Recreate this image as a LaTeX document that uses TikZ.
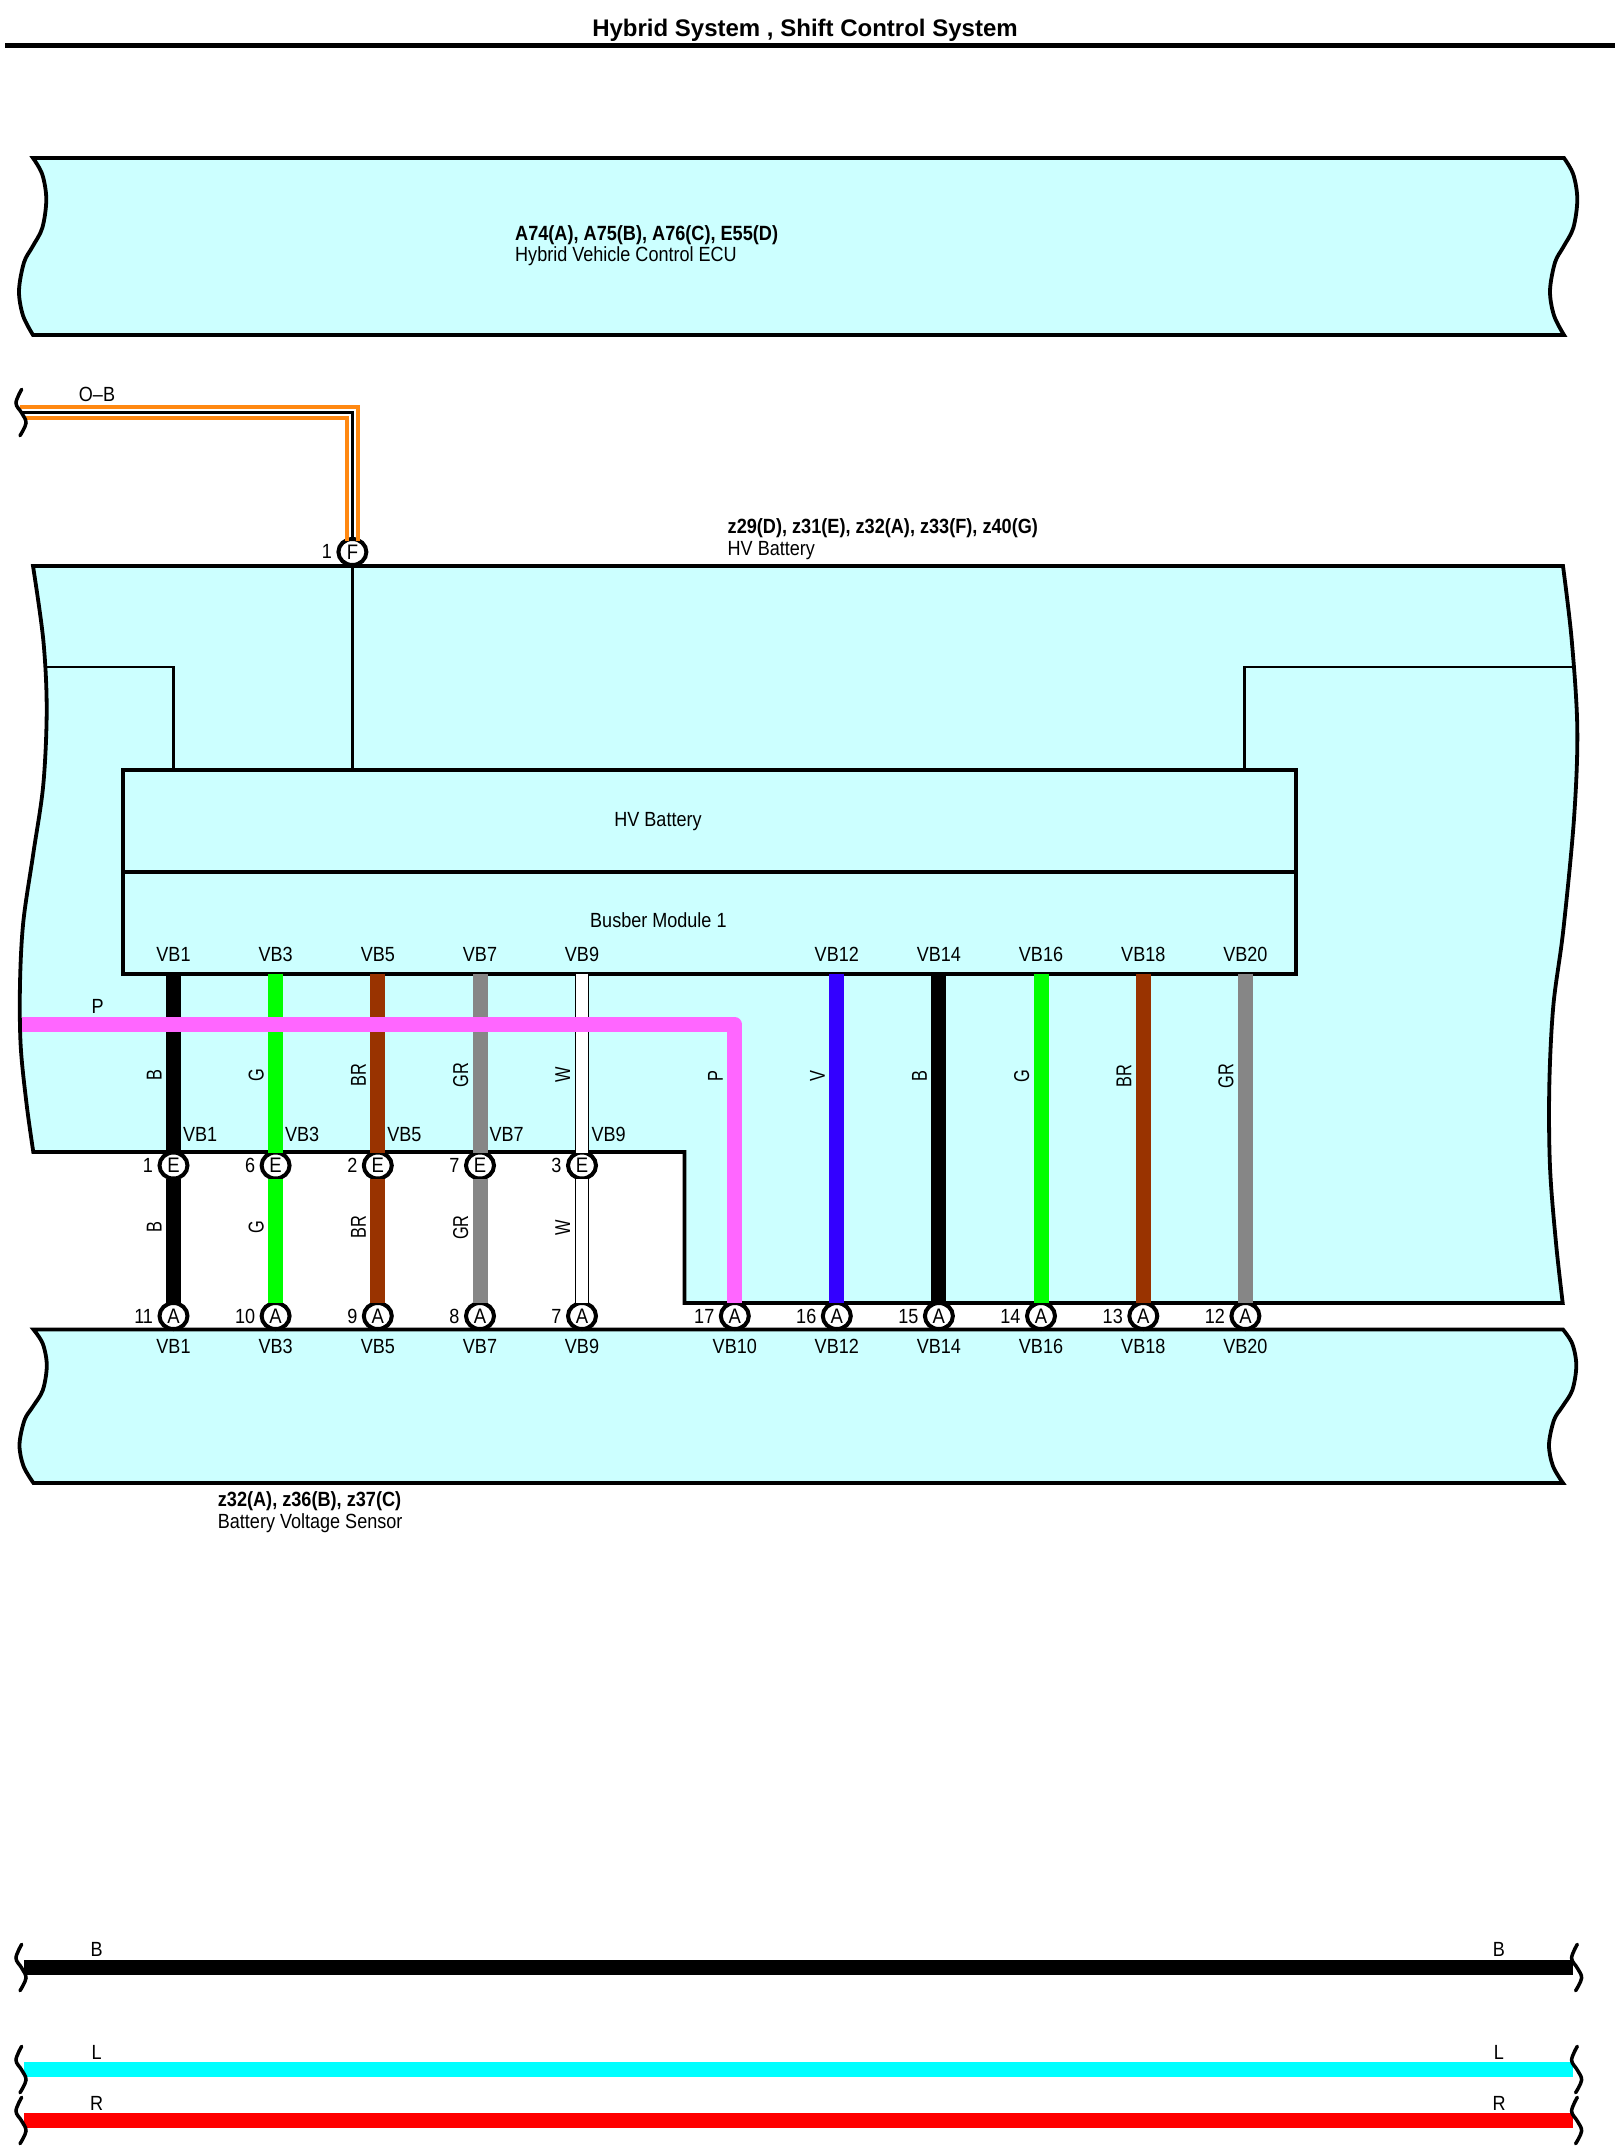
\documentclass[tikz,border=0pt]{standalone}
\usepackage{fontspec}
\usetikzlibrary{shapes.geometric}
\setmainfont{Liberation Sans}
\newfontfamily\condf[FakeStretch=0.88]{Liberation Sans}
\newfontfamily\rotf[FakeStretch=0.76]{Liberation Sans}
\definecolor{unitfill}{HTML}{CCFFFF}
\definecolor{wgreen}{HTML}{00FF00}
\definecolor{wbrown}{HTML}{993300}
\definecolor{wgray}{HTML}{868686}
\definecolor{wpink}{HTML}{FF66FF}
\definecolor{wblue}{HTML}{3300FF}
\definecolor{wcyan}{HTML}{00FFFF}
\definecolor{wred}{HTML}{FF0000}
\definecolor{worange}{HTML}{FF8811}
% unit with two wavy edges: left x, right x, top y, height
\newcommand{\unitshape}[4]{\draw[unit] (#1,#3) -- plot[smooth,tension=0.55] coordinates {(#2,#3) ({#2+9.3},{#3+.093*#4}) ({#2+13.3},{#3+.234*#4}) ({#2+9.3},{#3+.395*#4}) ({#2-.7},{#3+.503*#4}) ({#2-9},{#3+.59*#4}) ({#2-14},{#3+.75*#4}) ({#2-10},{#3+.89*#4}) (#2,{#3+#4})} -- plot[smooth,tension=0.55] coordinates {(#1,{#3+#4}) ({#1-10},{#3+.89*#4}) ({#1-14},{#3+.75*#4}) ({#1-9},{#3+.59*#4}) ({#1-.7},{#3+.503*#4}) ({#1+9.3},{#3+.395*#4}) ({#1+13.3},{#3+.234*#4}) ({#1+9.3},{#3+.093*#4}) (#1,#3)} -- cycle;}
\newcommand{\brk}[2]{\draw[breakmark] plot[smooth,tension=0.6] coordinates {({#1+.7},{#2-23}) ({#1-5},{#2-9.3}) ({#1+.7},{#2+.7}) ({#1+5},{#2+10.7}) ({#1-1},{#2+23.4})};}
\tikzset{
  x=1bp,y=-1bp,
  unit/.style={draw=black,fill=unitfill,line width=3.8bp,line join=miter},
  boxpart/.style={draw=black,fill=unitfill,line width=3.8bp,rectangle,inner sep=0pt,outer sep=0pt,anchor=north west},
  thinline/.style={draw=black,line width=2.6bp},
  term/.style={ellipse,draw=black,fill=white,line width=4bp,minimum width=28bp,minimum height=26bp,inner sep=0pt,outer sep=0pt,font=\condf\fontsize{21bp}{22bp}\selectfont},
  lab/.style={font=\condf\fontsize{20.5bp}{22bp}\selectfont,inner sep=0pt,outer sep=0pt,text=black},
  labb/.style={font=\condf\bfseries\fontsize{20.6bp}{22bp}\selectfont,inner sep=0pt,outer sep=0pt,text=black},
  rotlab/.style={font=\rotf\fontsize{21.5bp}{22bp}\selectfont,inner sep=0pt,outer sep=0pt,rotate=90,anchor=base,text=black},
  ttl/.style={font=\bfseries\fontsize{24bp}{26bp}\selectfont,inner sep=0pt,outer sep=0pt,text=black},
  wire/.style={line width=15bp},
  wB/.style={draw=black},
  wG/.style={draw=wgreen},
  wBR/.style={draw=wbrown},
  wGR/.style={draw=wgray},
  wV/.style={draw=wblue},
  wW/.style={draw=black,double=white,double distance=12.6bp,line width=1bp},
  bus/.style={line width=14.8bp},
  oline/.style={draw=worange,line width=4bp,line join=miter},
  bline/.style={draw=black,line width=3.4bp,line join=miter},
  breakmark/.style={draw=black,line width=3.5bp,line cap=round},
}
\begin{document}
\begin{tikzpicture}
\useasboundingbox (0,0) rectangle (1615,2153);
\fill[white] (0,0) rectangle (1615,2153);

% title
\node[ttl,anchor=base] (title) at (805,36.7) {Hybrid System , Shift Control System};
\coordinate (ruleL) at (5,45.3);
\coordinate (ruleR) at (1615,45.3);
\draw[line width=4.6bp] (ruleL) -- (ruleR);

% ECU
\unitshape{33}{1564}{158}{177}
\node[labb,anchor=base west] (ecuA) at (515.2,240) {A74(A), A75(B), A76(C), E55(D)};
\node[lab,anchor=base west] (ecuB) at (515.2,261) {Hybrid Vehicle Control ECU};

% HV Battery outline
\draw[unit] (33,566) -- plot[smooth,tension=0.55] coordinates {(1563,566) (1571.7,640) (1577.3,729) (1574,818.6) (1563.3,930) (1553.3,1006) (1549.3,1086) (1550,1167) (1556,1243) (1562.7,1303)}
  -- (684.4,1303) -- (684.4,1152) -- plot[smooth,tension=0.55] coordinates {(33.3,1152) (26.7,1105) (20.7,1046) (20,984) (23.3,922) (33.3,853.5) (43.3,784.6) (46.7,709) (43.3,640) (33,566)} -- cycle;
\node[labb,anchor=base west] (hvA) at (727.7,533) {z29(D), z31(E), z32(A), z33(F), z40(G)};
\node[lab,anchor=base west] (hvB) at (727.7,555) {HV Battery};

% inner boxes
\node[boxpart,minimum width=1172.7bp,minimum height=102bp] (hvbox) at (123.3,769.7) {};
\node[boxpart,minimum width=1172.7bp,minimum height=102bp] (busbar) at (123.3,871.7) {};
\node[lab,anchor=base] (hvtext) at (658,826) {HV Battery};
\node[lab,anchor=base] (bustext) at (658.4,927.7) {Busber Module 1};

% sensor
\unitshape{33.5}{1563}{1329.5}{153.5}
\node[labb,anchor=base west] (senA) at (217.9,1506) {z32(A), z36(B), z37(C)};
\node[lab,anchor=base west] (senB) at (217.9,1528) {Battery Voltage Sensor};

% thin internal lines
\node[term] (f) at (352.4,552) {F};
\node[lab,anchor=base east] (fn) at (332,558) {1};
\coordinate (tlA) at (46,667);
\coordinate (tlB) at (173.3,667);
\coordinate (trA) at (1573.5,667);
\coordinate (trB) at (1244.3,667);
\draw[thinline] (tlA) -- (tlB) -- (tlB |- hvbox.north);
\draw[thinline] (trA) -- (trB) -- (trB |- hvbox.north);
\draw[thinline] (f) -- (f |- hvbox.north);

% O-B wire
\coordinate (obU) at (20,407);
\coordinate (obM) at (22,412.3);
\coordinate (obL) at (26,417.7);
\draw[oline] (obU) -- (358,407) -- (358,541);
\draw[bline] (obM) -- (352.4,412.3) -- (f);
\draw[oline] (obL) -- (347.2,417.7) -- (347.2,541);
\brk{21}{412.3}
\node[lab,anchor=base] (oblab) at (97,401) {O–B};

% left columns: through E and A connectors
\foreach \i/\X/\vb/\ne/\na/\st/\lb in {1/173.5/VB1/1/11/wB/B,2/275.6/VB3/6/10/wG/G,3/377.8/VB5/2/9/wBR/BR,4/480/VB7/7/8/wGR/GR,5/582/VB9/3/7/wW/W}{
  \node[term] (e\i) at (\X,1165.5) {E};
  \node[term] (a\i) at (\X,1316) {A};
  \draw[wire,\st] (e\i |- busbar.south) -- (e\i);
  \draw[wire,\st] (e\i) -- (a\i);
  \node[lab,anchor=base] (t\i) at (\X,961.7) {\vb};
  \node[lab,anchor=base west] (m\i) at ({\X+9.5},1141) {\vb};
  \node[lab,anchor=base] (b\i) at (\X,1353) {\vb};
  \node[lab,anchor=base east] (ne\i) at ({\X-20.5},1172) {\ne};
  \node[lab,anchor=base east] (na\i) at ({\X-20.5},1323) {\na};
  \node[rotlab] (w\i) at ({\X-12},1075) {\lb};
  \node[rotlab] (v\i) at ({\X-12},1227.5) {\lb};
}

% right columns
\foreach \i/\X/\vb/\na/\st/\lb in {7/836.8/12/16/wV/V,8/938.9/14/15/wB/B,9/1041/16/14/wG/G,10/1143.3/18/13/wBR/BR,11/1245.4/20/12/wGR/GR}{
  \node[term] (a\i) at (\X,1316) {A};
  \draw[wire,\st] (a\i |- busbar.south) -- (a\i);
  \node[lab,anchor=base] (t\i) at (\X,961.7) {VB\vb};
  \node[lab,anchor=base] (b\i) at (\X,1353) {VB\vb};
  \node[lab,anchor=base east] (na\i) at ({\X-20.5},1323) {\na};
  \node[rotlab] (w\i) at ({\X-12},1076) {\lb};
}

% P wire
\node[term] (a6) at (734.8,1316) {A};
\coordinate (pS) at (22,1024.5);
\draw[wire,draw=wpink,line join=round] (pS) -- (a6 |- pS) -- (a6);
\node[lab,anchor=base] (b6) at (734.8,1353) {VB10};
\node[lab,anchor=base east] (na6) at (714.3,1323) {17};
\node[rotlab] (w6) at (722.8,1076) {P};
\node[lab,anchor=base west] (plab) at (91.7,1013) {P};

% bottom buses
\coordinate (bL) at (24,1967.3);
\coordinate (bR) at (1573,1967.3);
\coordinate (lL) at (24,2069.3);
\coordinate (lR) at (1573,2069.3);
\coordinate (rL) at (24,2120.3);
\coordinate (rR) at (1573,2120.3);
\draw[bus,draw=black] (bL) -- (bR);
\draw[bus,draw=wcyan] (lL) -- (lR);
\draw[bus,draw=wred] (rL) -- (rR);
\brk{21}{1967.3}
\brk{21}{2069.3}
\brk{21}{2120.3}
\brk{1576.6}{1967.3}
\brk{1576.6}{2069.3}
\brk{1576.6}{2120.3}
\node[lab,anchor=base] (bl1) at (96.7,1956.7) {B};
\node[lab,anchor=base] (bl2) at (1499,1956.7) {B};
\node[lab,anchor=base] (ll1) at (96.7,2059) {L};
\node[lab,anchor=base] (ll2) at (1499,2059) {L};
\node[lab,anchor=base] (rl1) at (96.7,2110) {R};
\node[lab,anchor=base] (rl2) at (1499,2110) {R};
\end{tikzpicture}
\end{document}
